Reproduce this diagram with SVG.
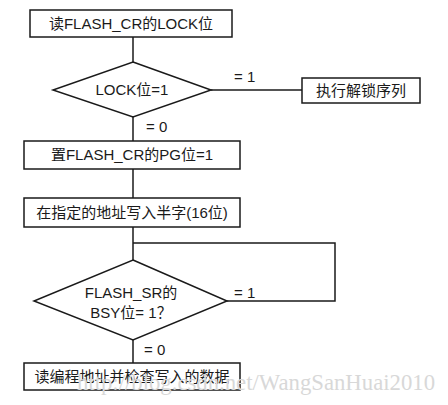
<svg xmlns="http://www.w3.org/2000/svg" width="448" height="405" viewBox="0 0 448 405">
<style>
.n{fill:#fff;stroke:#1a1a1a;stroke-width:1.5}
.c{fill:none;stroke:#1a1a1a;stroke-width:1.5}
.t{font-family:"Liberation Sans","Noto Sans CJK SC",sans-serif;font-size:15px;fill:#1a1a1a;text-anchor:middle}
.l{font-family:"Liberation Sans","Noto Sans CJK SC",sans-serif;font-size:15px;fill:#1a1a1a}
</style>
<rect width="448" height="405" fill="#fff"/>
<g id="connectors">
<line class="c" x1="133" y1="37" x2="133" y2="62"/>
<line class="c" x1="211" y1="90" x2="302" y2="90"/>
<line class="c" x1="133" y1="117" x2="133" y2="141"/>
<line class="c" x1="133" y1="169" x2="133" y2="198"/>
<line class="c" x1="133" y1="227" x2="133" y2="260"/>
<polyline class="c" points="133,243 335,243 335,301 227,301"/>
<line class="c" x1="133" y1="340" x2="133" y2="363"/>
<text class="l" x="234" y="82">= 1</text>
<text class="l" x="146" y="132">= 0</text>
<text class="l" x="234" y="298">= 1</text>
<text class="l" x="144" y="355">= 0</text>
</g>
<g id="n1"><rect class="n" x="30" y="10" width="202" height="27"/><text class="t" x="131" y="29">读FLASH_CR的LOCK位</text></g>
<g id="n2"><polygon class="n" points="133,62 211,90 133,117 53,90"/><text class="t" x="132" y="95">LOCK位=1</text></g>
<g id="n3"><rect class="n" x="302" y="78" width="118" height="25"/><text class="t" x="361" y="96">执行解锁序列</text></g>
<g id="n4"><rect class="n" x="24" y="141" width="216" height="28"/><text class="t" x="132" y="160">置FLASH_CR的PG位=1</text></g>
<g id="n5"><rect class="n" x="24" y="198" width="216" height="29"/><text class="t" x="132" y="218">在指定的地址写入半字(16位)</text></g>
<g id="n6"><polygon class="n" points="133,260 227,301 133,340 34,301"/><text class="t" x="131" y="298">FLASH_SR的</text><text class="t" x="131" y="318">BSY位= 1？</text></g>
<g id="n7"><rect class="n" x="24" y="363" width="216" height="27"/><text class="t" x="132" y="382">读编程地址并检查写入的数据</text></g>
<text x="77" y="390" font-family="Liberation Serif,serif" font-size="24" fill="#d8d8d8" textLength="358" lengthAdjust="spacingAndGlyphs">http://blog.csdn.net/WangSanHuai2010</text>
</svg>
